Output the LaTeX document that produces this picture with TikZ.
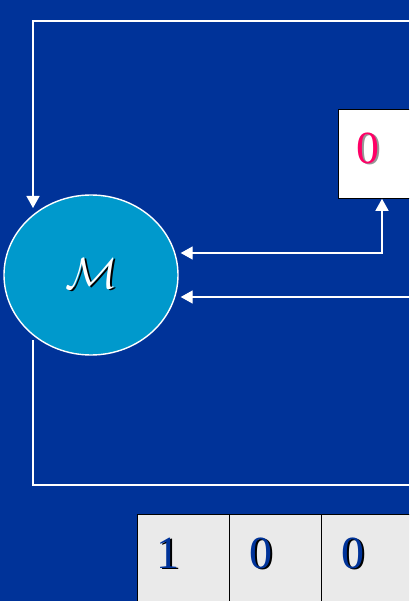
\documentclass[tikz,border=0pt]{standalone}
\usepackage{fontspec}
\setmainfont{Liberation Serif}
\usetikzlibrary{arrows.meta,shapes.geometric}
\definecolor{bgblue}{RGB}{0,51,153}
\definecolor{discblue}{RGB}{0,153,204}
\definecolor{tapegrey}{RGB}{234,234,234}
\definecolor{digitpink}{RGB}{255,0,102}
\definecolor{softshadow}{RGB}{150,150,150}
% text with a small drop shadow: #1 text colour, #2 shadow colour, #3 text
\newcommand{\dropshadowed}[3]{%
  \makebox[0pt][l]{\hspace{1.5pt}\raisebox{-1.5pt}{\color{#2}#3}}{\color{#1}#3}}
\tikzset{
  wire/.style={white, line width=1.4pt},
  headtip/.tip={Triangle[length=12pt,width=13pt]},
  disc/.style={ellipse, draw=white, line width=1.4pt, fill=discblue,
    minimum width=174pt, minimum height=160pt, inner sep=0pt},
  valbox/.style={rectangle, draw=black, line width=0.8pt, fill=white,
    minimum width=88pt, minimum height=89pt, anchor=north west, inner sep=0pt},
  cell/.style={rectangle, draw=black, line width=0.8pt, fill=tapegrey,
    minimum width=92pt, minimum height=100pt, anchor=north west, inner sep=0pt},
  bigdigit/.style={inner sep=0pt, font=\fontsize{46}{50}\selectfont},
}
\begin{document}
\begin{tikzpicture}[x=1pt,y=-1pt]
  \useasboundingbox (0,0) rectangle (409,601);
  \clip (0,0) rectangle (409,601);
  \fill[bgblue] (0,0) rectangle (409,601);

  % machine disc
  \node[disc] (M) at (91,275) {};
  \node[inner sep=0pt, scale=2.1, font=\fontsize{20.74}{24}\selectfont] (Mlabel) at (92,274)
    {\makebox[0pt][l]{\hspace{0.8pt}\raisebox{-0.8pt}{\color{black}$\mathcal{M}$}}{\color{white}$\mathcal{M}$}};

  % value box on the right
  \node[valbox] (zbox) at (338,109) {};
  \node[bigdigit] (zval) at (368,149) {\dropshadowed{digitpink}{softshadow}{0}};

  % tape cells at the bottom
  \node[cell] (c1) at (137,514) {};
  \node[cell] (c2) at (229,514) {};
  \node[cell] (c3) at (321,514) {};
  \node[bigdigit] (d1) at (168,554) {\dropshadowed{bgblue}{black}{1}};
  \node[bigdigit] (d2) at (261,554) {\dropshadowed{bgblue}{black}{0}};
  \node[bigdigit] (d3) at (353,554) {\dropshadowed{bgblue}{black}{0}};

  % connector end points
  \coordinate (topR) at (415,21);
  \coordinate (topL) at (33,21);
  \coordinate (inTop) at (33,208);
  \coordinate (outBot) at (33,340);
  \coordinate (botL) at (33,485);
  \coordinate (botR) at (415,485);
  \coordinate (j1) at (382,253);
  \coordinate (r2) at (415,297);

  % feedback loop over the top into the disc
  \draw[wire, -headtip] (topR) -- (topL) -- (inTop);
  % output loop along the bottom
  \draw[wire] (outBot) -- (botL) -- (botR);
  % two-way link between disc and value box
  \draw[wire, headtip-headtip] ([xshift=2pt]M.east |- j1) -- (j1) -- (j1 |- zbox.south);
  % input from the right into the disc
  \draw[wire, -headtip] (r2) -- ([xshift=2pt]M.east |- r2);
\end{tikzpicture}
\end{document}
